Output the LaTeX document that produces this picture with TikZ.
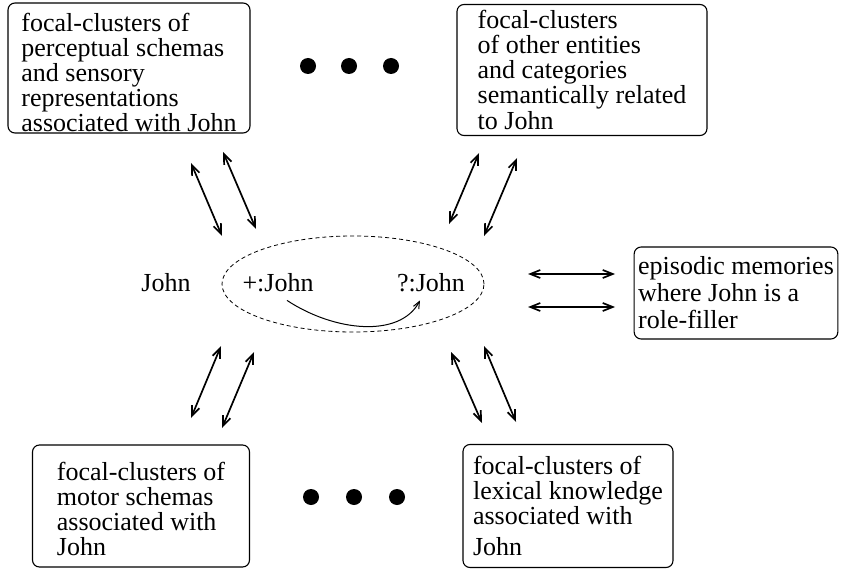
\documentclass[tikz,border=0pt]{standalone}
\usepackage{fontspec}
\setmainfont{Liberation Serif}
\usetikzlibrary{arrows.meta,shapes.geometric}

\newcommand{\lift}[1]{\rule{0pt}{#1}}

\begin{document}
\begin{tikzpicture}[x=1pt,y=-1pt,
    font=\fontsize{26}{25}\selectfont,
    box/.style={draw, rounded corners=7pt, line width=1.1pt, align=left, inner sep=0pt},
    link/.style={line width=1.7pt, {Straight Barb[length=10pt,width=8pt]}-{Straight Barb[length=10pt,width=8pt]}}]
  \useasboundingbox (0,0) rectangle (850,569);

  % the focus on John
  \node[ellipse, draw, dash pattern=on 4pt off 3pt, line width=0.8pt, minimum width=262, minimum height=96, inner sep=0pt] (focus) at (353,284) {};
  \node (john) at (166,283) {John};
  \node[inner sep=2pt] (plus) at (278,283) {+:John};
  \node[inner sep=2pt] (query) at (431,283) {?:John};
  \draw[line width=1pt, -{Straight Barb[length=7pt,width=6pt]}] ([xshift=9pt,yshift=-6pt]plus.south) .. controls (335,332) and (400,338) .. ([xshift=-11pt,yshift=-6pt]query.south);

  % the focal-clusters round it
  \node[box, minimum width=242, minimum height=130] (percept) at (129,68) {\lift{28pt}focal-clusters of\\perceptual schemas\\and sensory\\representations\\associated with John};
  \node[box, minimum width=250, minimum height=131] (related) at (582,70) {focal-clusters\\of other entities\\and categories\\semantically related\\[1pt]to John};
  \node[box, minimum width=198, minimum height=92, inner xsep=4pt] (episodic) at (736,293) {episodic memories\\[2pt]where John is a\\[2pt]role-filler};
  \node[box, minimum width=217, minimum height=122] (motor) at (141,506) {\lift{24pt}focal-clusters of\\motor schemas\\associated with\\John};
  \node[box, minimum width=210, minimum height=123] (lexical) at (568,506) {focal-clusters of\\lexical knowledge\\associated with\\[6pt]John};

  % more of them
  \foreach \x in {308,349,391} \fill (\x,66) circle (8);
  \foreach \x in {311,354,397} \fill (\x,497) circle (8);

  % links, two by two
  \foreach \n/\ax/\ay/\bx/\by in {pa/191/163/222/236, pb/223/152/256/229,
                                  ra/479/153/449/224, rb/517/158/484/236,
                                  ea/528/274/615/274, eb/528/307/615/307,
                                  ma/221/346/191/418, mb/254/352/222/428,
                                  la/451/352/482/423, lb/484/346/516/422}{
    \coordinate (\n-s) at (\ax,\ay);
    \coordinate (\n-e) at (\bx,\by);
    \draw[link] (\n-s) -- (\n-e);
  }
\end{tikzpicture}
\end{document}
